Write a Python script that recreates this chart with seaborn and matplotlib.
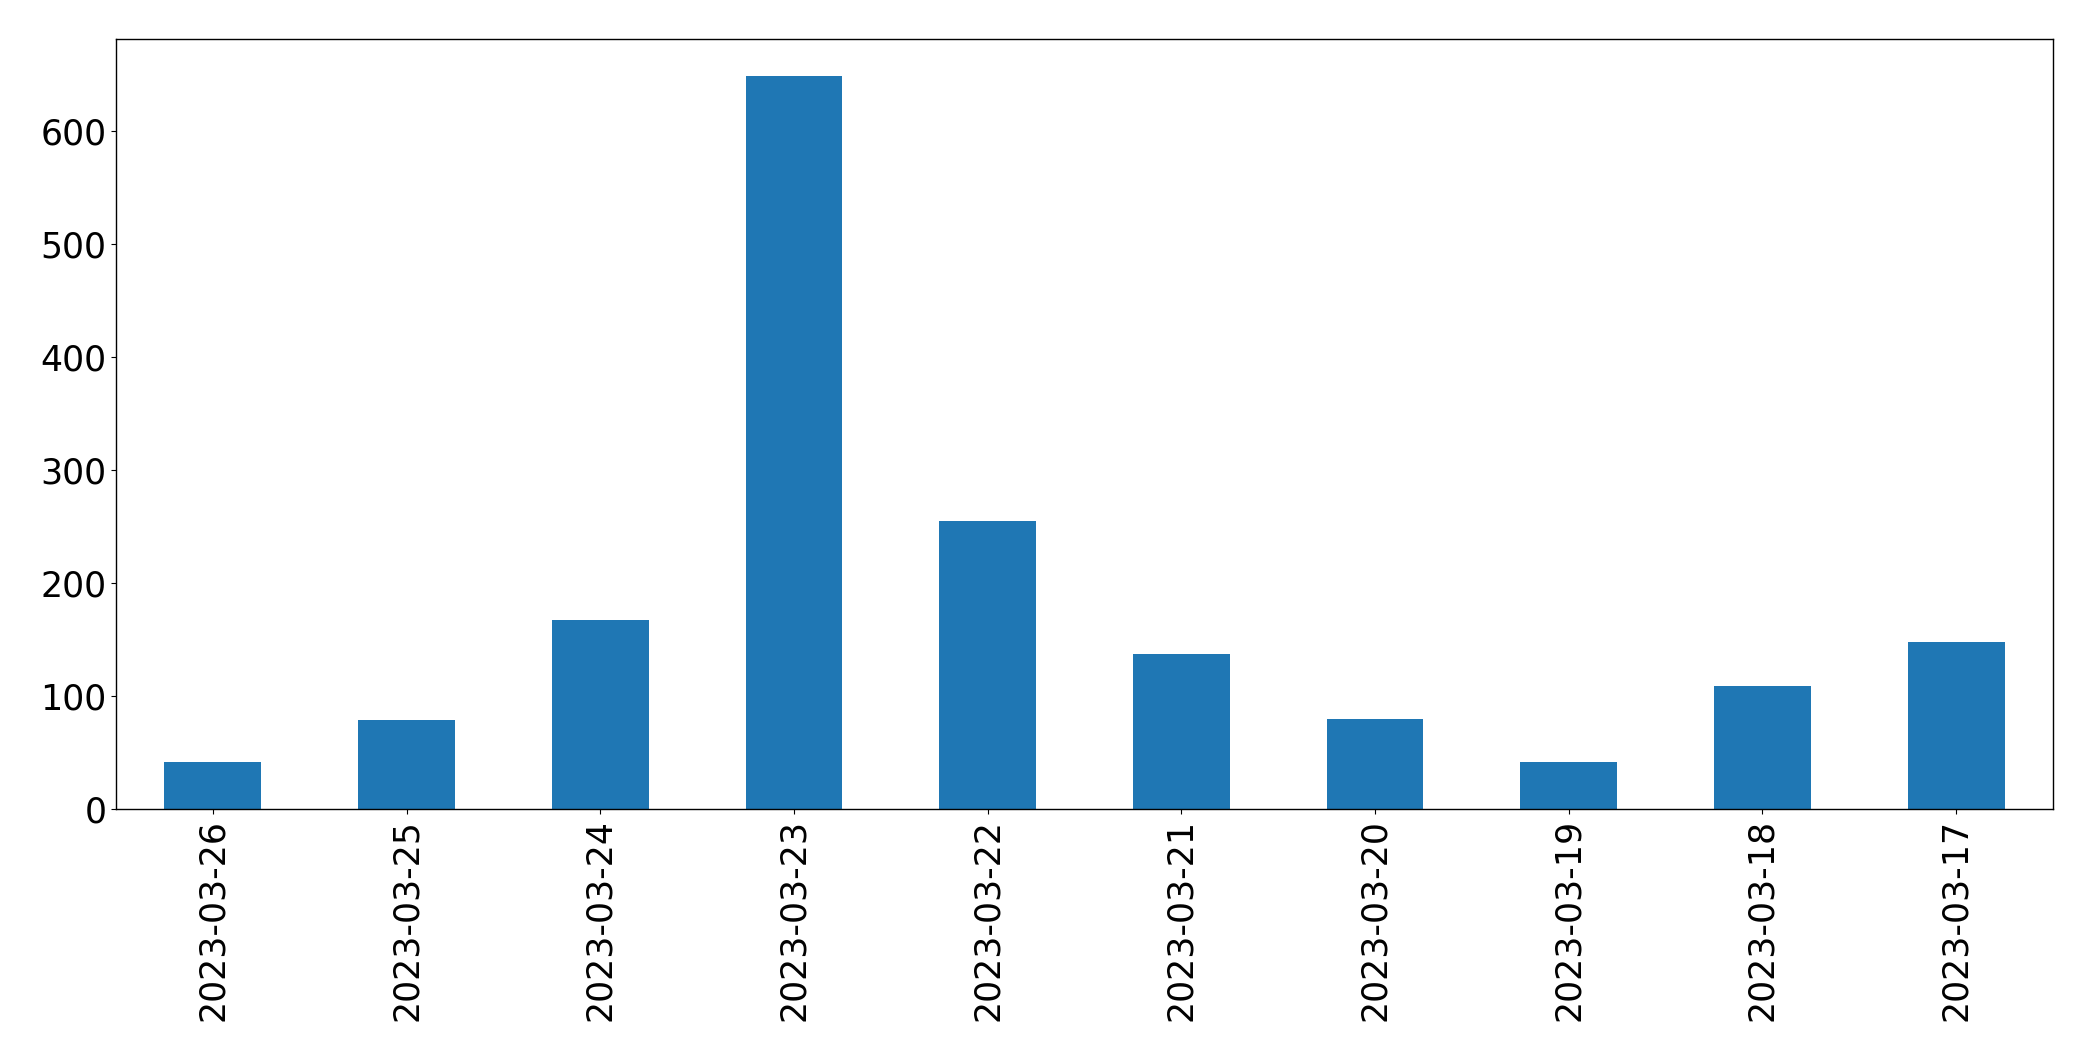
import matplotlib
matplotlib.use("Agg")
import matplotlib.pyplot as plt
import seaborn as sns
import pandas as pd

dates = ["2023-03-26", "2023-03-25", "2023-03-24", "2023-03-23", "2023-03-22",
         "2023-03-21", "2023-03-20", "2023-03-19", "2023-03-18", "2023-03-17"]
counts = [42, 79, 167, 649, 255, 137, 80, 42, 109, 148]

df = pd.DataFrame({"date": dates, "count": counts})

W, H = 2093, 1061
fig = plt.figure(figsize=(W / 100, H / 100), dpi=100)
ax = fig.add_axes([116 / W, 1 - 809 / H, (2053 - 116) / W, (809 - 39) / H])

sns.barplot(data=df, x="date", y="count", order=dates, color="#1f77b4",
            saturation=1, width=0.5, ax=ax)

ax.set_xlim(-0.5, len(dates) - 0.5)
ax.set_ylim(0, max(counts) * 1.05)
ax.set_xlabel("")
ax.set_ylabel("")
ax.tick_params(axis="both", labelsize=25)
ax.tick_params(axis="x", labelrotation=90)
for s in ax.spines.values():
    s.set_visible(True)
    s.set_color("black")
    s.set_linewidth(1.0)

fig.savefig("out.png", dpi=100)
